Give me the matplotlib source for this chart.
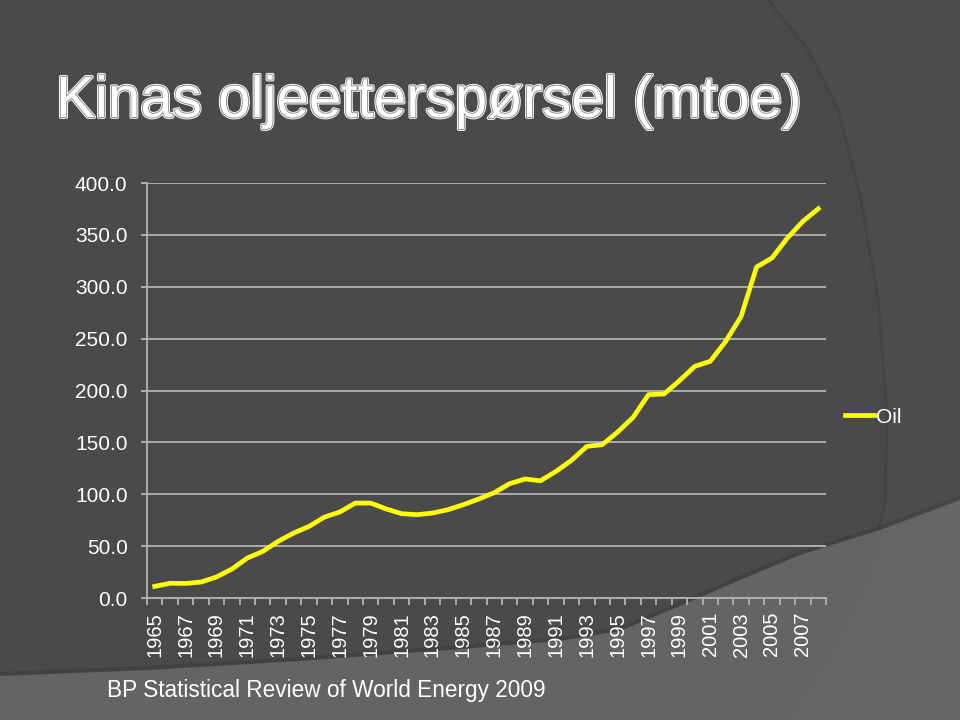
import matplotlib
matplotlib.use("Agg")
import matplotlib.pyplot as plt
import matplotlib.patheffects as pe
from matplotlib.patches import Polygon
from matplotlib.ticker import FixedLocator, NullFormatter

# China oil demand, mtoe (BP Statistical Review 2009)
years = list(range(1965, 2009))
oil = [11.2, 14.2, 14.0, 15.4, 20.2, 27.9, 38.5, 44.9, 54.6, 62.6,
       69.0, 78.0, 82.9, 91.5, 91.5, 85.8, 81.3, 80.3, 81.9, 85.1,
       89.9, 95.4, 101.5, 110.2, 114.7, 113.0, 122.0, 132.6, 146.1, 147.8,
       160.0, 174.1, 196.0, 196.6, 209.4, 223.3, 228.1, 247.4, 271.4, 319.0,
       327.7, 347.0, 363.0, 375.2]
yticks = [0, 50, 100, 150, 200, 250, 300, 350, 400]

BG = "#4a4a4a"
LIGHT = "#646464"
GRID = "#b4b4b4"
TXT = "white"

plt.rcParams['font.family'] = ['Liberation Sans', 'DejaVu Sans']

fig = plt.figure(figsize=(9.6, 7.2), dpi=100, facecolor=BG)


def px(points):
    # pixel coords (top-left origin) -> figure fraction
    return [(x / 960, 1 - y / 720) for x, y in points]


# background decoration
lower = [(0, 676), (150, 670), (300, 661), (450, 650), (560, 641), (620, 631),
         (680, 606), (740, 580), (800, 555), (880, 530), (960, 500)]
fig.patches.append(Polygon(px(lower + [(960, 720), (0, 720)]), closed=True,
                           transform=fig.transFigure, fc=LIGHT, ec="none", zorder=0))
xs, ys = zip(*px(lower))
fig.add_artist(plt.Line2D(xs, [y + 0.003 for y in ys], transform=fig.transFigure,
                          color="#3c3c3c", lw=3, alpha=0.5, zorder=0))
arc = [(770, 0), (810, 50), (840, 110), (863, 200), (880, 300), (889, 417),
       (887, 500), (873, 567), (840, 640), (787, 720)]
fig.patches.append(Polygon(px(arc + [(960, 720), (960, 0)]), closed=True,
                           transform=fig.transFigure, fc="#808080", ec="none",
                           alpha=0.05, zorder=0))
xs, ys = zip(*px(arc))
fig.add_artist(plt.Line2D([x - 0.002 for x in xs], ys, transform=fig.transFigure,
                          color="#383838", lw=2, alpha=0.3, zorder=0))

ax = fig.add_axes([147 / 960, 1 - 598 / 720, 679 / 960, 415 / 720])
ax.set_zorder(2)
ax.set_facecolor("none")

pos = [i + 0.5 for i in range(len(years))]
ax.plot(pos, oil, color="#ffff00", lw=3.4, solid_joinstyle="round", label="Oil", zorder=3)

ax.set_xlim(0, len(years))
ax.set_ylim(0, 400)
ax.set_yticks(yticks)
ax.set_yticklabels([f"{v:.1f}" for v in yticks])
ax.grid(axis="y", color=GRID, lw=1.3)
ax.set_axisbelow(True)

ax.xaxis.set_major_locator(FixedLocator(pos[::2]))
ax.set_xticklabels([str(y) for y in years[::2]], rotation=90)
ax.xaxis.set_minor_locator(FixedLocator(list(range(len(years) + 1))))
ax.xaxis.set_minor_formatter(NullFormatter())
ax.tick_params(axis="x", which="major", length=0, pad=10, labelsize=14.5, colors=TXT)
ax.tick_params(axis="x", which="minor", length=5, width=1.3, color=GRID, direction="out")
ax.tick_params(axis="y", length=4, width=1.3, color=GRID, pad=10, labelsize=15, labelcolor=TXT)

for s in ["top", "right"]:
    ax.spines[s].set_visible(False)
for s in ["left", "bottom"]:
    ax.spines[s].set_color(GRID)
    ax.spines[s].set_linewidth(1.3)

leg = ax.legend(loc="center left", bbox_to_anchor=(1.001, 0.436), frameon=False,
                handlelength=1.35, handletextpad=0.1, fontsize=15, labelcolor=TXT)

fig.text(56 / 960, 1 - 117 / 720, "Kinas oljeetterspørsel (mtoe)", fontsize=42,
         color="white", va="baseline", ha="left",
         path_effects=[pe.Stroke(linewidth=2.6, foreground="white"),
                       pe.Stroke(linewidth=1.3, foreground="#8a8a8a"),
                       pe.Normal()])

fig.text(107 / 960, 1 - 697 / 720, "BP Statistical Review of World Energy 2009",
         fontsize=16.3, color=TXT, va="baseline", ha="left")

fig.savefig("out.png", dpi=100, facecolor=BG)
